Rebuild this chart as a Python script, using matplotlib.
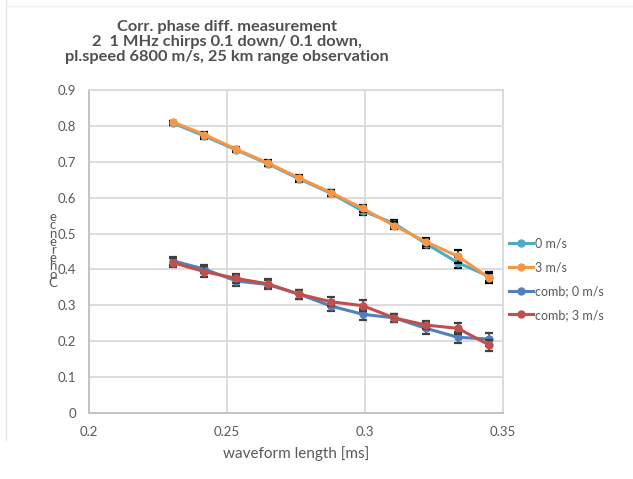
import matplotlib
matplotlib.use("Agg")
import matplotlib.pyplot as plt
from matplotlib.ticker import FuncFormatter, MultipleLocator
from matplotlib.lines import Line2D

# ---- data ----
waveform_length = [0.2303, 0.2418, 0.2533, 0.2647, 0.2762, 0.2877,
                   0.2992, 0.3106, 0.3221, 0.3336, 0.3451]

coh_0 = [0.808, 0.772, 0.733, 0.695, 0.652, 0.612, 0.563, 0.528, 0.472, 0.419, 0.380]
coh_3 = [0.811, 0.776, 0.735, 0.697, 0.655, 0.614, 0.570, 0.522, 0.477, 0.437, 0.376]
comb_0 = [0.424, 0.401, 0.368, 0.358, 0.331, 0.298, 0.275, 0.265, 0.236, 0.211, 0.206]
comb_3 = [0.419, 0.394, 0.375, 0.360, 0.331, 0.310, 0.299, 0.265, 0.245, 0.236, 0.189]

err_0 = [0.005, 0.008, 0.006, 0.008, 0.008, 0.008, 0.010, 0.010, 0.012, 0.015, 0.012]
err_3 = [0.004, 0.006, 0.006, 0.008, 0.008, 0.008, 0.010, 0.010, 0.012, 0.018, 0.015]
err_c0 = [0.012, 0.012, 0.015, 0.012, 0.012, 0.015, 0.015, 0.012, 0.015, 0.015, 0.018]
err_c3 = [0.012, 0.015, 0.012, 0.012, 0.012, 0.012, 0.015, 0.012, 0.012, 0.015, 0.015]

labels = ["0 m/s", "3 m/s", "comb; 0 m/s", "comb; 3 m/s"]
colors = ["#4BACC6", "#F79646", "#4F81BD", "#C0504D"]
err_colors = ["#000000", "#000000", "#404040", "#404040"]

title_lines = ["Corr. phase diff. measurement",
               "2  1 MHz chirps 0.1 down/ 0.1 down,",
               "pl.speed 6800 m/s, 25 km range observation"]
xlabel = "waveform length [ms]"
ylabel = "Coherence"

plt.rcParams['font.family'] = ['Lato', 'DejaVu Sans']

W, H = 633, 479
fig = plt.figure(figsize=(W / 100, H / 100), dpi=100)
ax = fig.add_axes([89 / W, 1 - 413 / H, (503 - 89) / W, (413 - 90) / H])

series = [coh_0, coh_3, comb_0, comb_3]
errs = [err_0, err_3, err_c0, err_c3]
handles = []
for i, (ys, es) in enumerate(zip(series, errs)):
    ax.errorbar(waveform_length, ys, yerr=es, fmt='none', ecolor=err_colors[i],
                elinewidth=1.1, capsize=2.8, capthick=1.6, zorder=3 + i)
    ln, = ax.plot(waveform_length, ys, color=colors[i], lw=2.2, marker='o',
                  markersize=5, zorder=3 + i + 0.5, label=labels[i])
    handles.append(ln)

ax.set_xlim(0.2, 0.35)
ax.set_ylim(0, 0.9)
ax.xaxis.set_major_locator(MultipleLocator(0.05))
ax.yaxis.set_major_locator(MultipleLocator(0.1))
fmt = FuncFormatter(lambda v, p: ("%.2f" % v).rstrip('0').rstrip('.') if abs(v) > 1e-9 else "0")
ax.xaxis.set_major_formatter(fmt)
ax.yaxis.set_major_formatter(fmt)
ax.grid(True, color="#D9D9D9", lw=1.3, zorder=0)
ax.set_axisbelow(True)
for s in ax.spines.values():
    s.set_color("#D9D9D9")
    s.set_linewidth(1.3)
ax.spines['left'].set_color("#BFBFBF")
ax.spines['bottom'].set_color("#BFBFBF")
ax.tick_params(length=0, labelsize=9.5, colors="#595959", pad=9)
ax.tick_params(axis='x', pad=9)

ax.set_xlabel(xlabel, fontsize=11, color="#595959", labelpad=6)

# stacked y label (letters upright, bottom to top)
fig.text(53 / W, 1 - 250 / H, "\n".join(reversed(ylabel)), fontsize=9.5,
         color="#595959", ha='center', va='center', linespacing=0.62)

fig.text(227 / W, 1 - 42 / H, "\n".join(title_lines), fontsize=11.8, fontweight='bold',
         color="#505050", ha='center', va='center', linespacing=1.12)

fig.legend(handles=handles, labels=labels, loc='center left',
           bbox_to_anchor=(509 / W, 1 - 279 / H), frameon=False, fontsize=9,
           labelcolor="#595959", handlelength=1.9, handletextpad=0.2,
           labelspacing=0.95, borderaxespad=0, borderpad=0)

# faint outer border lines
fig.add_artist(Line2D([6 / W, 6 / W], [1 - 440 / H, 1.0], color="#E6E6E6", lw=1))
fig.add_artist(Line2D([6 / W, 1.0], [1 - 6 / H, 1 - 6 / H], color="#F0F0F0", lw=1))

fig.savefig("out.png", dpi=100)
